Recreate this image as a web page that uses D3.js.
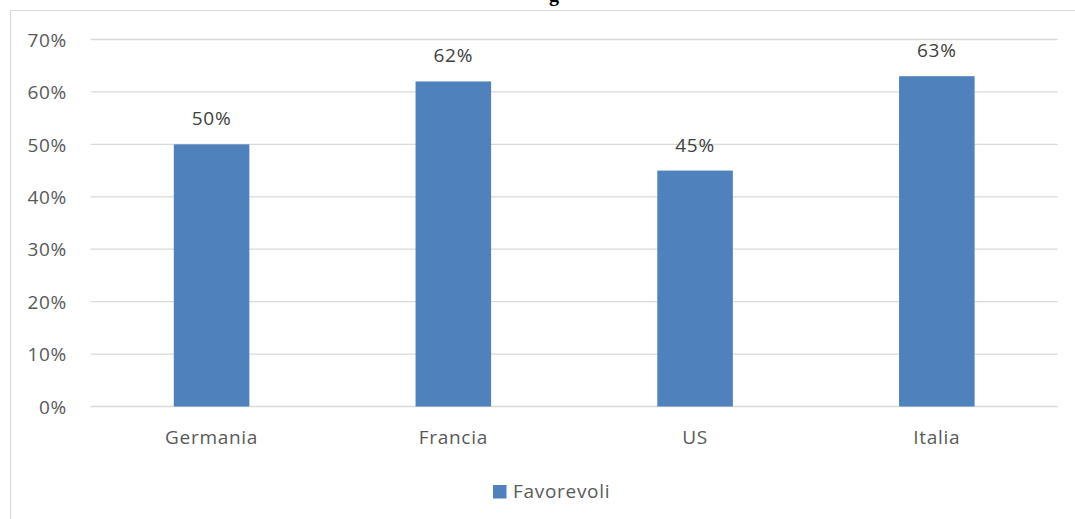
<!DOCTYPE html>
<html><head><meta charset="utf-8">
<script src="https://cdn.jsdelivr.net/npm/d3@7"></script>
<style>html,body{margin:0;padding:0;background:#fff;}svg{display:block;}</style>
</head><body>
<script>
const categories = ["Germania", "Francia", "US", "Italia"];
const favorevoli = [0.50, 0.62, 0.45, 0.63];
const tickValues = [0, 0.1, 0.2, 0.3, 0.4, 0.5, 0.6, 0.7];
const seriesName = "Favorevoli";
const titleText = "g";

const W = 1075, H = 519;
const font = "'Open Sans', 'Noto Sans', sans-serif";
const txt = "#595959";
const fs = 19, ls = "0.7px";
const svg = d3.select("body").append("svg").attr("width", W).attr("height", H);

// chart area border
svg.append("rect").attr("x", 10.5).attr("y", 10.5).attr("width", 1100).attr("height", 600)
  .attr("fill", "none").attr("stroke", "#d9d9d9").attr("stroke-width", 1);

// title (reference shows only its descender at the top edge)
svg.append("text").attr("x", 554).attr("y", 1).attr("text-anchor", "middle")
  .attr("font-family", "'Liberation Serif', serif").attr("font-weight", "bold")
  .attr("font-size", 20).attr("fill", "#000").text(titleText);

const x = d3.scaleBand().domain(categories).range([90.7, 1057.7]).padding(0);
const y = d3.scaleLinear().domain([0, 0.7]).range([406.5, 39.5]);

// gridlines
svg.append("g").selectAll("line").data(tickValues).join("line")
  .attr("x1", 90.7).attr("x2", 1057.7)
  .attr("y1", d => y(d)).attr("y2", d => y(d))
  .attr("stroke", "#d9d9d9").attr("stroke-width", 1.3);

// y axis labels
const yAxis = d3.axisLeft(y).tickValues(tickValues).tickFormat(d3.format(".0%")).tickSize(0).tickPadding(0);
const ya = svg.append("g").attr("transform", "translate(67,0)").call(yAxis);
ya.select(".domain").remove();
ya.selectAll("text").attr("font-family", font).attr("font-size", fs).attr("letter-spacing", ls).attr("fill", txt).attr("dy", "0.35em");

// bars
const bw = x.bandwidth() / 3.2;
svg.append("g").selectAll("rect").data(favorevoli).join("rect")
  .attr("x", (d, i) => x(categories[i]) + x.bandwidth() / 2 - bw / 2)
  .attr("width", bw)
  .attr("y", d => y(d)).attr("height", d => y(0) - y(d))
  .attr("fill", "#4f81bd");

// data labels
svg.append("g").selectAll("text").data(favorevoli).join("text")
  .attr("x", (d, i) => x(categories[i]) + x.bandwidth() / 2)
  .attr("y", d => y(d) - 19)
  .attr("text-anchor", "middle").attr("font-family", font).attr("font-size", fs).attr("letter-spacing", ls).attr("fill", "#404040")
  .text(d => d3.format(".0%")(d));

// x axis labels
const xAxis = d3.axisBottom(x).tickSize(0).tickPadding(0);
const xa = svg.append("g").attr("transform", "translate(0,444)").call(xAxis);
xa.select(".domain").remove();
xa.selectAll("text").attr("font-family", font).attr("font-size", fs).attr("letter-spacing", ls).attr("fill", txt).attr("dy", 0);

// legend
const lg = svg.append("g");
lg.append("rect").attr("x", 493).attr("y", 485).attr("width", 13.5).attr("height", 13.5).attr("fill", "#4f81bd");
lg.append("text").attr("x", 513).attr("y", 498).attr("font-family", font).attr("font-size", fs).attr("letter-spacing", ls).attr("fill", txt).text(seriesName);
</script>
</body></html>
